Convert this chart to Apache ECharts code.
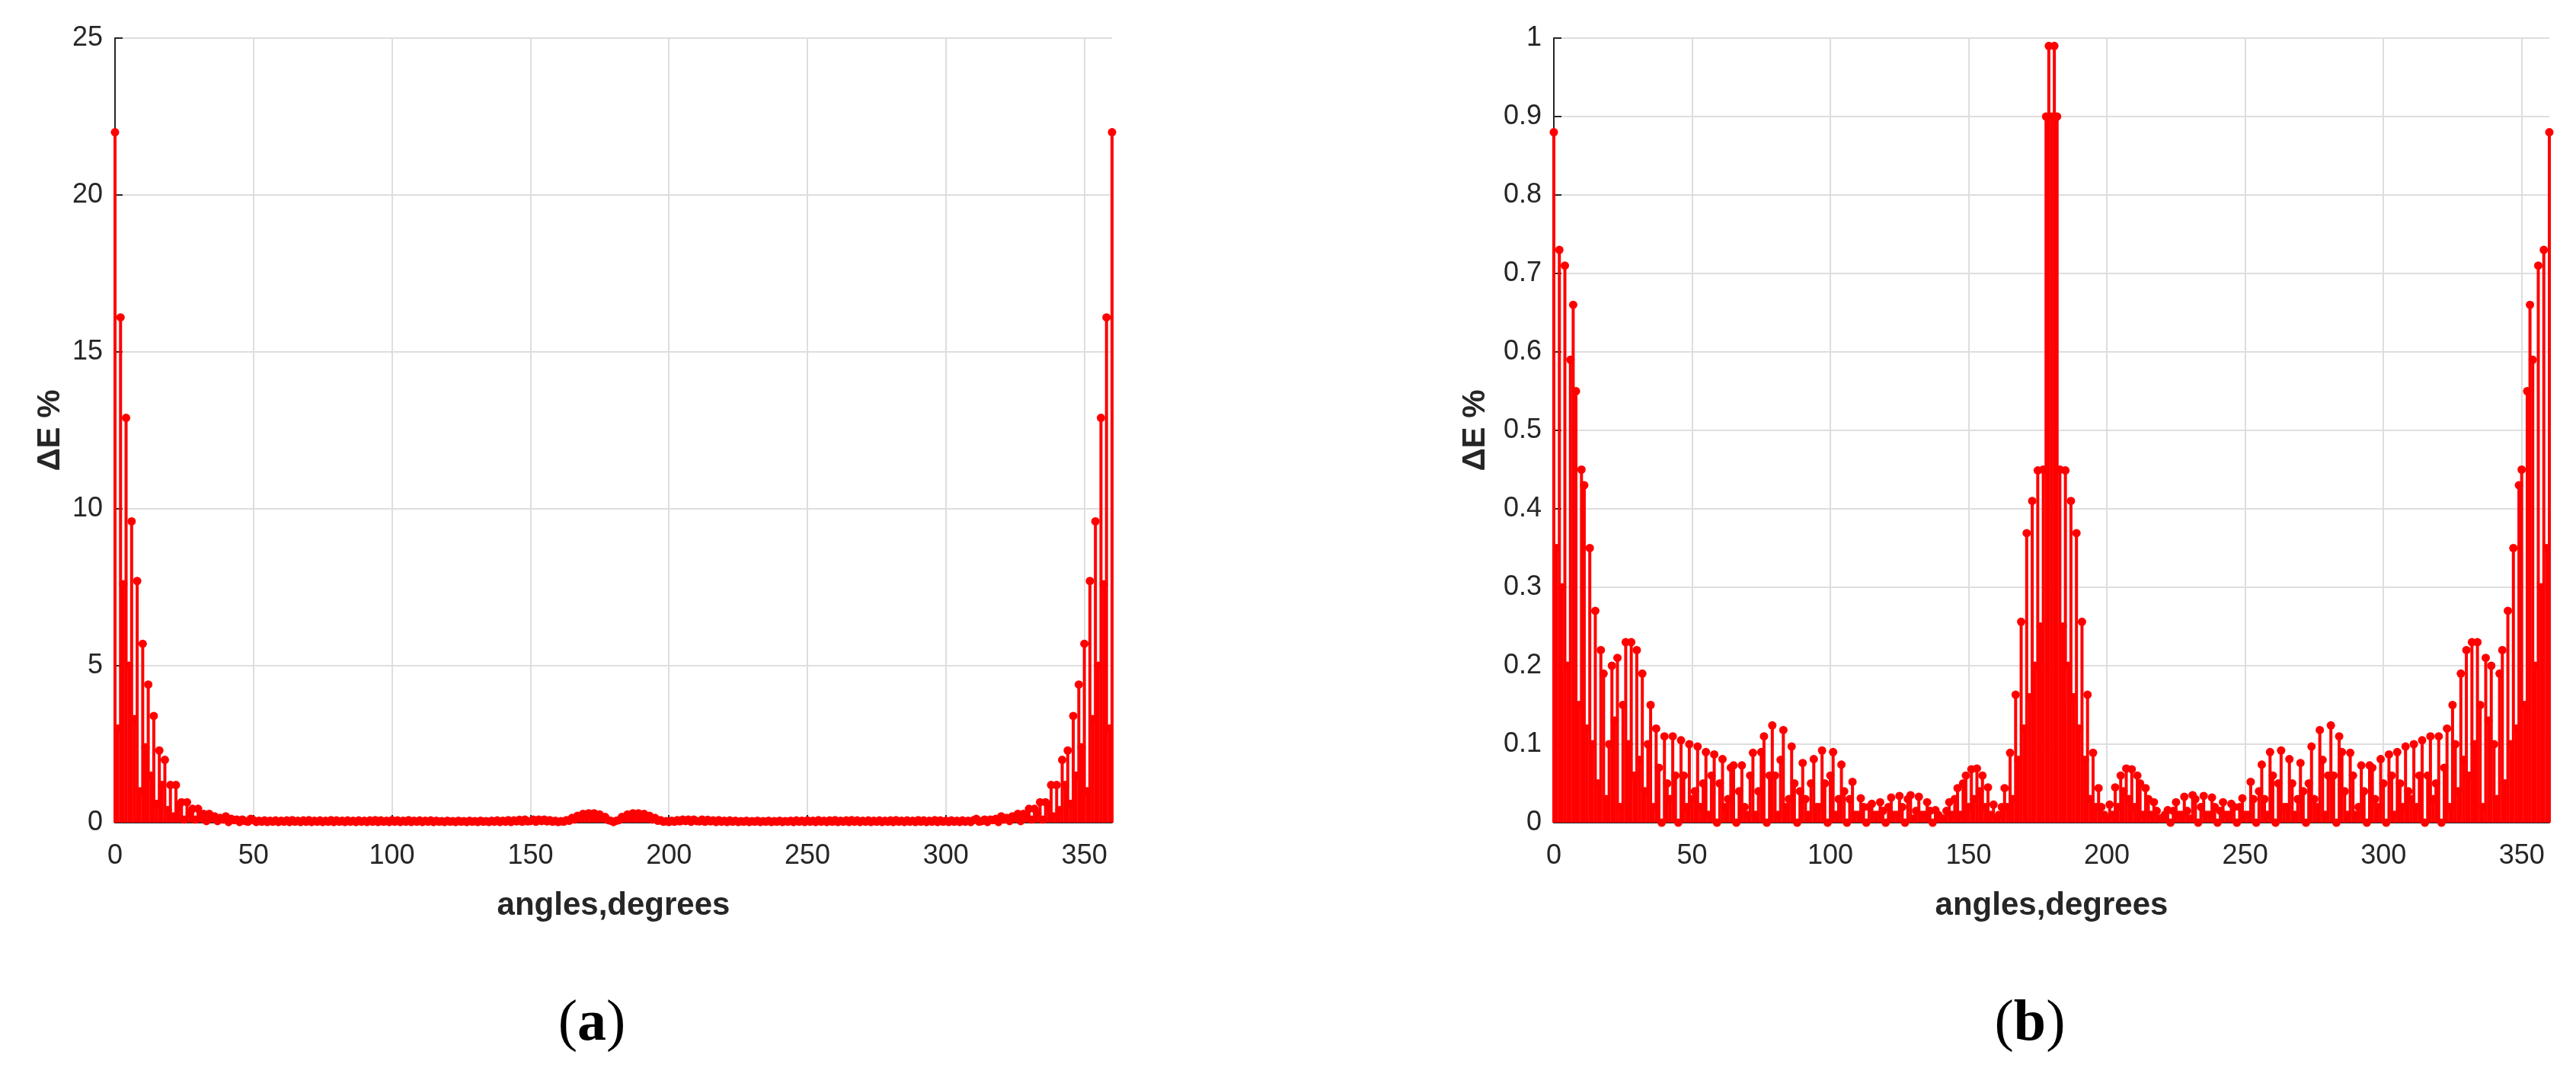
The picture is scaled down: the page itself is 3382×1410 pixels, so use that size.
<!DOCTYPE html>
<html><head><meta charset="utf-8">
<script src="https://cdn.jsdelivr.net/npm/echarts@6/dist/echarts.min.js"></script>
<style>html,body{margin:0;padding:0;background:#fff}#c{width:3382px;height:1410px}</style>
</head><body><div id="c"></div>
<script>
// angles sampled every degree from 0 to 360
const angleStart = 0;
const angleStep = 1;
const xTickInterval = 50;
const panelLabels = ['(a)', '(b)'];
const xAxisTitle = 'angles,degrees';
const yAxisTitle = 'ΔE %';

// panel (a): ΔE % for each angle 0..360
const deltaEA = [
22.0,3.0,16.1,7.6,12.9,5.0,9.6,3.3,7.7,1.0,
5.7,2.4,4.4,1.5,3.4,0.6,2.3,1.2,2.0,0.4,
1.2,0.2,1.2,0.5,0.65,0.1,0.65,0.3,0.44,0.1,
0.44,0.2,0.28,0.05,0.28,0.15,0.2,0.05,0.15,0.1,
0.2,0.02,0.12,0.08,0.1,0.02,0.1,0.05,0.03,0.12,
0.08,0.02,0.06,0.03,0.07,0.02,0.06,0.03,0.07,0.02,
0.06,0.03,0.07,0.02,0.08,0.03,0.06,0.02,0.07,0.03,
0.08,0.02,0.06,0.03,0.07,0.02,0.06,0.03,0.08,0.02,
0.07,0.03,0.06,0.02,0.07,0.03,0.06,0.02,0.07,0.03,
0.06,0.02,0.07,0.03,0.08,0.02,0.07,0.03,0.06,0.02,
0.08,0.03,0.07,0.02,0.06,0.03,0.08,0.02,0.06,0.03,
0.07,0.02,0.06,0.03,0.07,0.02,0.06,0.03,0.05,0.02,
0.06,0.03,0.05,0.02,0.06,0.03,0.05,0.02,0.06,0.03,
0.05,0.02,0.06,0.03,0.05,0.02,0.06,0.03,0.07,0.02,
0.06,0.03,0.08,0.02,0.07,0.04,0.09,0.03,0.1,0.04,
0.05,0.1,0.03,0.1,0.05,0.1,0.04,0.08,0.03,0.06,
0.02,0.05,0.03,0.08,0.06,0.15,0.1,0.22,0.15,0.28,
0.2,0.3,0.22,0.3,0.2,0.26,0.15,0.18,0.08,0.06,
0.02,
0.06,0.08,0.18,0.15,0.26,0.2,0.3,0.22,0.3,0.2,
0.28,0.15,0.22,0.1,0.15,0.06,0.08,0.03,0.05,0.02,
0.06,0.03,0.08,0.04,0.1,0.05,0.1,0.03,0.1,0.05,
0.04,0.1,0.03,0.09,0.04,0.07,0.02,0.08,0.03,0.06,
0.02,0.07,0.03,0.06,0.02,0.05,0.03,0.06,0.02,0.05,
0.03,0.06,0.02,0.05,0.03,0.06,0.02,0.05,0.03,0.06,
0.02,0.05,0.03,0.06,0.02,0.07,0.03,0.06,0.02,0.07,
0.03,0.06,0.02,0.08,0.03,0.06,0.02,0.07,0.03,0.08,
0.02,0.06,0.03,0.07,0.02,0.08,0.03,0.07,0.02,0.06,
0.03,0.07,0.02,0.06,0.03,0.07,0.02,0.06,0.03,0.07,
0.02,0.08,0.03,0.06,0.02,0.07,0.03,0.06,0.02,0.08,
0.03,0.07,0.02,0.06,0.03,0.08,0.02,0.07,0.03,0.06,
0.02,0.07,0.03,0.06,0.02,0.07,0.03,0.06,0.02,0.08,
0.12,0.03,0.05,0.1,0.02,0.1,0.08,0.12,0.02,0.2,
0.1,0.15,0.05,0.2,0.15,0.28,0.05,0.28,0.2,0.44,
0.1,0.44,0.3,0.65,0.1,0.65,0.5,1.2,0.2,1.2,
0.4,2.0,1.2,2.3,0.6,3.4,1.5,4.4,2.4,5.7,
1.0,7.7,3.3,9.6,5.0,12.9,7.6,16.1,3.0,22.0
];

// panel (b): ΔE % for each angle 0..360
const deltaEB = [
0.88,0.35,0.73,0.30,0.71,0.20,0.59,0.66,0.55,0.15,
0.45,0.43,0.12,0.35,0.10,0.27,0.05,0.22,0.19,0.03,
0.10,0.20,0.13,0.21,0.02,0.15,0.23,0.10,0.23,0.06,
0.22,0.08,0.19,0.04,0.10,0.15,0.02,0.12,0.07,0.00,
0.11,0.05,0.03,0.11,0.06,0.00,0.105,0.06,0.02,0.10,
0.03,0.04,0.097,0.02,0.05,0.09,0.01,0.06,0.087,0.00,
0.05,0.081,0.02,0.03,0.07,0.073,0.00,0.04,0.073,0.02,
0.01,0.06,0.089,0.01,0.04,0.09,0.11,0.00,0.06,0.124,
0.06,0.01,0.08,0.118,0.02,0.03,0.097,0.05,0.00,0.04,
0.076,0.03,0.01,0.05,0.081,0.02,0.02,0.092,0.05,0.00,
0.06,0.09,0.01,0.03,0.074,0.04,0.00,0.03,0.052,0.01,
0.01,0.031,0.02,0.00,0.02,0.024,0.01,0.01,0.026,0.015,
0.00,0.02,0.032,0.01,0.01,0.034,0.02,0.00,0.03,0.035,
0.005,0.015,0.033,0.01,0.01,0.026,0.015,0.00,0.016,0.01,
0.006,0.005,0.015,0.026,0.01,0.03,0.044,0.01,0.05,0.06,
0.02,0.068,0.03,0.069,0.04,0.06,0.02,0.045,0.01,0.023,
0.005,0.01,0.02,0.044,0.02,0.089,0.03,0.163,0.08,0.256,
0.12,0.369,0.16,0.41,0.20,0.449,0.25,0.45,0.90,0.99,
0.90,
0.99,0.90,0.45,0.25,0.449,0.20,0.41,0.16,0.369,0.12,
0.256,0.08,0.163,0.03,0.089,0.02,0.044,0.02,0.01,0.005,
0.023,0.01,0.045,0.02,0.06,0.04,0.069,0.03,0.068,0.02,
0.06,0.05,0.01,0.044,0.03,0.01,0.026,0.015,0.005,0.006,
0.01,0.016,0.00,0.015,0.026,0.01,0.01,0.033,0.015,0.005,
0.035,0.03,0.00,0.02,0.034,0.01,0.01,0.032,0.02,0.00,
0.015,0.026,0.01,0.01,0.024,0.02,0.00,0.02,0.031,0.01,
0.01,0.052,0.03,0.00,0.04,0.074,0.03,0.01,0.09,0.06,
0.00,0.05,0.092,0.02,0.02,0.081,0.05,0.01,0.03,0.076,
0.04,0.00,0.05,0.097,0.03,0.02,0.118,0.08,0.01,0.06,
0.124,0.06,0.00,0.11,0.09,0.04,0.01,0.089,0.06,0.01,
0.02,0.073,0.04,0.00,0.073,0.07,0.03,0.02,0.081,0.05,
0.00,0.087,0.06,0.01,0.09,0.05,0.02,0.097,0.04,0.03,
0.10,0.02,0.06,0.105,0.00,0.06,0.11,0.03,0.05,0.11,
0.00,0.07,0.12,0.02,0.15,0.10,0.04,0.19,0.08,0.22,
0.06,0.23,0.10,0.23,0.15,0.02,0.21,0.13,0.20,0.10,
0.03,0.19,0.22,0.05,0.27,0.10,0.35,0.12,0.43,0.45,
0.15,0.55,0.66,0.59,0.20,0.71,0.30,0.73,0.35,0.88
];

const yMaxA = 25, yIntervalA = 5;
const yMaxB = 1, yIntervalB = 0.1;

const chart = echarts.init(document.getElementById('c'), null, {renderer: 'canvas'});
const ink = '#262626';
const red = '#ff0000';
const sans = 'Liberation Sans, Arial, Helvetica, sans-serif';

function toPoints(vals) { return vals.map((v, i) => [angleStart + i * angleStep, v]); }

function xAxisCfg(gi) {
  return {
    gridIndex: gi, type: 'value', min: 0, max: 360, interval: xTickInterval,
    name: xAxisTitle, nameLocation: 'middle', nameGap: 88,
    nameTextStyle: {fontFamily: sans, fontWeight: 'bold', fontSize: 42, color: ink},
    axisLine: {show: true, onZero: false, lineStyle: {color: ink, width: 2}},
    axisTick: {show: true, inside: true, length: 10, lineStyle: {color: ink, width: 2}},
    axisLabel: {fontFamily: sans, fontSize: 36, color: ink, margin: 26, showMaxLabel: false},
    splitLine: {show: true, showMaxLine: false, lineStyle: {color: '#dedede', width: 2}}
  };
}
function yAxisCfg(gi, max, interval, gap) {
  return {
    gridIndex: gi, type: 'value', min: 0, max: max, interval: interval,
    name: yAxisTitle, nameLocation: 'middle', nameGap: gap,
    nameTextStyle: {fontFamily: sans, fontWeight: 'bold', fontSize: 42, color: ink},
    axisLine: {show: true, lineStyle: {color: ink, width: 2}},
    axisTick: {show: true, inside: true, length: 10, lineStyle: {color: ink, width: 2}},
    axisLabel: {fontFamily: sans, fontSize: 36, color: ink, margin: 16},
    splitLine: {show: true, lineStyle: {color: '#dedede', width: 2}}
  };
}
function stemSeries(gi, vals) {
  const pts = toPoints(vals);
  return [
    {type: 'bar', xAxisIndex: gi, yAxisIndex: gi, data: pts, barWidth: 4,
     itemStyle: {color: red}, silent: true, z: 3},
    {type: 'scatter', xAxisIndex: gi, yAxisIndex: gi, data: pts, symbol: 'circle',
     symbolSize: 11, itemStyle: {color: red, opacity: 1}, silent: true, z: 4}
  ];
}

chart.setOption({
  animation: false,
  backgroundColor: '#ffffff',
  grid: [
    {left: 151, top: 50, width: 1309, height: 1030},
    {left: 2040, top: 50, width: 1307, height: 1030}
  ],
  xAxis: [xAxisCfg(0), xAxisCfg(1)],
  yAxis: [yAxisCfg(0, yMaxA, yIntervalA, 64), yAxisCfg(1, yMaxB, yIntervalB, 82)],
  series: [].concat(stemSeries(0, deltaEA), stemSeries(1, deltaEB)),
  graphic: [
    {type: 'text', x: 777, y: 1345, style: {text: '{p|(}{b|a}{p|)}', align: 'center', verticalAlign: 'middle',
      rich: {p: {fontFamily: 'Liberation Serif, Times New Roman, serif', fontSize: 76, fill: '#000'},
             b: {fontFamily: 'Liberation Serif, Times New Roman, serif', fontSize: 76, fontWeight: 'bold', fill: '#000'}}}},
    {type: 'text', x: 2665, y: 1345, style: {text: '{p|(}{b|b}{p|)}', align: 'center', verticalAlign: 'middle',
      rich: {p: {fontFamily: 'Liberation Serif, Times New Roman, serif', fontSize: 76, fill: '#000'},
             b: {fontFamily: 'Liberation Serif, Times New Roman, serif', fontSize: 76, fontWeight: 'bold', fill: '#000'}}}}
  ]
});
</script></body></html>
